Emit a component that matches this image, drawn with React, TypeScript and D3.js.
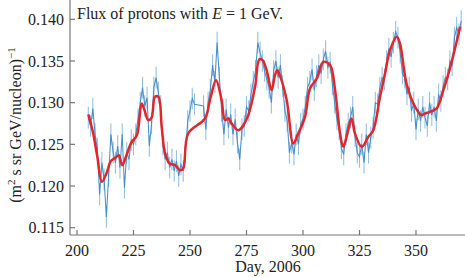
import React from "react";
import * as d3 from "d3";

const blueDays: number[] = [
  205,206,207,208,209,210,211,212,213,214,215,216,217,218,219,220,221,222,223,224,225,226,227,228,229,230,
  231,232,233,234,235,236,237,238,239,240,241,242,243,244,245,246,247,248,249,250,251,252,
  256,257,258,259,260,261,262,263,264,265,266,267,268,269,270,271,272,273,274,275,276,277,278,279,280,
  281,282,283,284,285,286,287,288,289,290,291,292,293,294,295,296,297,298,299,300,301,302,303,304,305,
  306,307,308,309,310,311,312,313,314,315,316,317,318,319,320,321,322,323,324,325,326,327,328,329,330,
  331,332,333,334,335,336,337,338,339,340,341,342,343,344,345,346,347,348,349,350,351,352,353,354,355,
  356,357,358,359,360,361,362,363,364,365,366,367,368,369,370,
];
const blueFlux: number[] = [
  0.1282,0.1272,0.1293,0.1262,0.1245,0.1190,0.1228,0.1208,0.1163,0.1212,0.1262,0.1240,0.1228,0.1248,0.1222,0.1262,0.1198,0.1240,0.1232,0.1255,0.1250,0.1262,0.1280,0.1300,0.1318,0.1296,
  0.1306,0.1248,0.1275,0.1318,0.1330,0.1312,0.1296,0.1250,0.1232,0.1240,0.1222,0.1232,0.1218,0.1230,0.1212,0.1226,0.1218,0.1242,0.1278,0.1290,0.1305,0.1298,
  0.1296,0.1268,0.1300,0.1315,0.1345,0.1325,0.1372,0.1330,0.1290,0.1262,0.1292,0.1270,0.1286,0.1262,0.1280,0.1252,0.1232,0.1268,0.1272,0.1295,0.1290,0.1310,0.1325,0.1338,0.1372,
  0.1360,0.1350,0.1338,0.1328,0.1318,0.1300,0.1338,0.1350,0.1330,0.1345,0.1320,0.1290,0.1278,0.1240,0.1252,0.1238,0.1262,0.1250,0.1275,0.1280,0.1295,0.1318,0.1325,0.1340,0.1315,
  0.1332,0.1345,0.1335,0.1352,0.1362,0.1342,0.1348,0.1322,0.1300,0.1280,0.1268,0.1245,0.1238,0.1262,0.1275,0.1282,0.1295,0.1260,0.1240,0.1235,0.1250,0.1228,0.1262,0.1240,0.1258,
  0.1270,0.1300,0.1298,0.1318,0.1330,0.1328,0.1350,0.1365,0.1355,0.1372,0.1385,0.1378,0.1360,0.1335,0.1330,0.1310,0.1318,0.1290,0.1300,0.1268,0.1292,0.1278,0.1295,0.1282,0.1272,
  0.1300,0.1285,0.1295,0.1278,0.1310,0.1302,0.1320,0.1330,0.1328,0.1350,0.1345,0.1378,0.1390,0.1382,0.1398,
];
const fluxError = 0.0013;

const smoothDays: number[] = [
  205,207,209,211,213,215,217,218.5,220,222,224,226.5,228.6,230,231.5,233,234.5,236,237.5,239,241,243.4,245.6,247,249.2,
  256.6,259,261.5,264,265.5,267,268.4,271.4,273.6,275.8,278.8,280.7,282.1,283.9,286.1,287.6,288.6,289.7,292.8,295.7,297.9,
  300.9,303.1,306.1,309,312,314.2,316.4,317.8,320,321.5,323,326,328.9,331.1,334.1,336.3,338.5,341.5,342.9,345.8,349.6,352.5,
  354,356.2,359.1,362.1,365.8,369.5,
];
const smoothFlux: number[] = [
  0.1286,0.1265,0.1235,0.1205,0.1215,0.1230,0.1234,0.1237,0.1225,0.1238,0.1252,0.1261,0.1299,0.1290,0.1279,0.1282,0.1307,0.1307,0.1270,0.1239,0.1227,0.1225,0.1219,0.1221,0.1263,
  0.1281,0.1305,0.1327,0.1303,0.1279,0.1281,0.1275,0.1267,0.1273,0.1285,0.1319,0.1352,0.1351,0.1339,0.1315,0.1333,0.1339,0.1333,0.1303,0.1251,0.1263,
  0.1283,0.1317,0.1329,0.1349,0.1345,0.1315,0.1263,0.1247,0.1267,0.1281,0.1263,0.1247,0.1259,0.1267,0.1307,0.1335,0.1363,0.1379,0.1371,0.1323,0.1295,0.1285,
  0.1287,0.1289,0.1293,0.1315,0.1349,0.1391,
];

const xTicks: number[] = [200, 225, 250, 275, 300, 325, 350];
const yTicks: number[] = [0.115, 0.12, 0.125, 0.13, 0.135, 0.14];

const W = 465;
const H = 277;
const AX_LEFT = 70;
const AX_BOTTOM = 235;
const FONT = "'Liberation Serif', 'Times New Roman', serif";

export default function App() {
  const x = d3.scaleLinear().domain([200, 350]).range([77, 416]);
  const y = d3.scaleLinear().domain([0.115, 0.14]).range([227.7, 19.3]);

  const blue = blueDays.map((d, i) => ({ d, v: blueFlux[i] }));
  const red = smoothDays.map((d, i) => ({ d, v: smoothFlux[i] }));

  const lineGen = d3
    .line<{ d: number; v: number }>()
    .x((p) => x(p.d))
    .y((p) => y(p.v));

  const redGen = d3
    .line<{ d: number; v: number }>()
    .x((p) => x(p.d))
    .y((p) => y(p.v))
    .curve(d3.curveCatmullRom.alpha(0.5));

  return (
    <svg
      width={W}
      height={H}
      style={{ position: "absolute", left: 0, top: 0, background: "#fff" }}
      fontFamily={FONT}
    >
      <rect x={0} y={0} width={W} height={H} fill="#fff" />
      {/* error bars */}
      <g stroke="#6aa5d6" strokeOpacity={0.7} strokeWidth={1.1}>
        {blue.map((p, i) => (
          <line
            key={i}
            x1={x(p.d)}
            x2={x(p.d)}
            y1={y(p.v - fluxError)}
            y2={y(p.v + fluxError)}
          />
        ))}
      </g>
      <path d={lineGen(blue) || ""} fill="none" stroke="#3b88c6" strokeWidth={1.1} strokeOpacity={0.9} />
      <path d={redGen(red) || ""} fill="none" stroke="#e3262b" strokeWidth={2.5} strokeLinejoin="round" />

      {/* axes */}
      <line x1={AX_LEFT} x2={AX_LEFT} y1={0} y2={AX_BOTTOM} stroke="#777" strokeWidth={1.2} />
      <line x1={AX_LEFT} x2={W} y1={AX_BOTTOM} y2={AX_BOTTOM} stroke="#777" strokeWidth={1.2} />
      {yTicks.map((t) => (
        <g key={t}>
          <line x1={AX_LEFT} x2={AX_LEFT + 5} y1={y(t)} y2={y(t)} stroke="#777" strokeWidth={1.2} />
          <text x={64} y={y(t)} dy="0.35em" textAnchor="end" fontSize={16} fill="#222">
            {t.toFixed(3)}
          </text>
        </g>
      ))}
      {xTicks.map((t) => (
        <g key={t}>
          <line x1={x(t)} x2={x(t)} y1={AX_BOTTOM} y2={AX_BOTTOM - 5} stroke="#777" strokeWidth={1.2} />
          <text x={x(t)} y={256} textAnchor="middle" fontSize={16} fill="#222">
            {t}
          </text>
        </g>
      ))}
      <text x={268} y={272} textAnchor="middle" fontSize={16} fill="#222">
        Day, 2006
      </text>
      <text x={77} y={18.5} fontSize={16} fill="#222">
        Flux of protons with <tspan fontStyle="italic">E</tspan> = 1 GeV.
      </text>
      <text
        transform={`translate(21,125) rotate(-90)`}
        textAnchor="middle"
        fontSize={16}
        fill="#222"
      >
        (m<tspan dy={-6} fontSize={11}>2</tspan>
        <tspan dy={6}> s sr GeV/nucleon)</tspan>
        <tspan dy={-6} fontSize={11}>−1</tspan>
      </text>
    </svg>
  );
}
